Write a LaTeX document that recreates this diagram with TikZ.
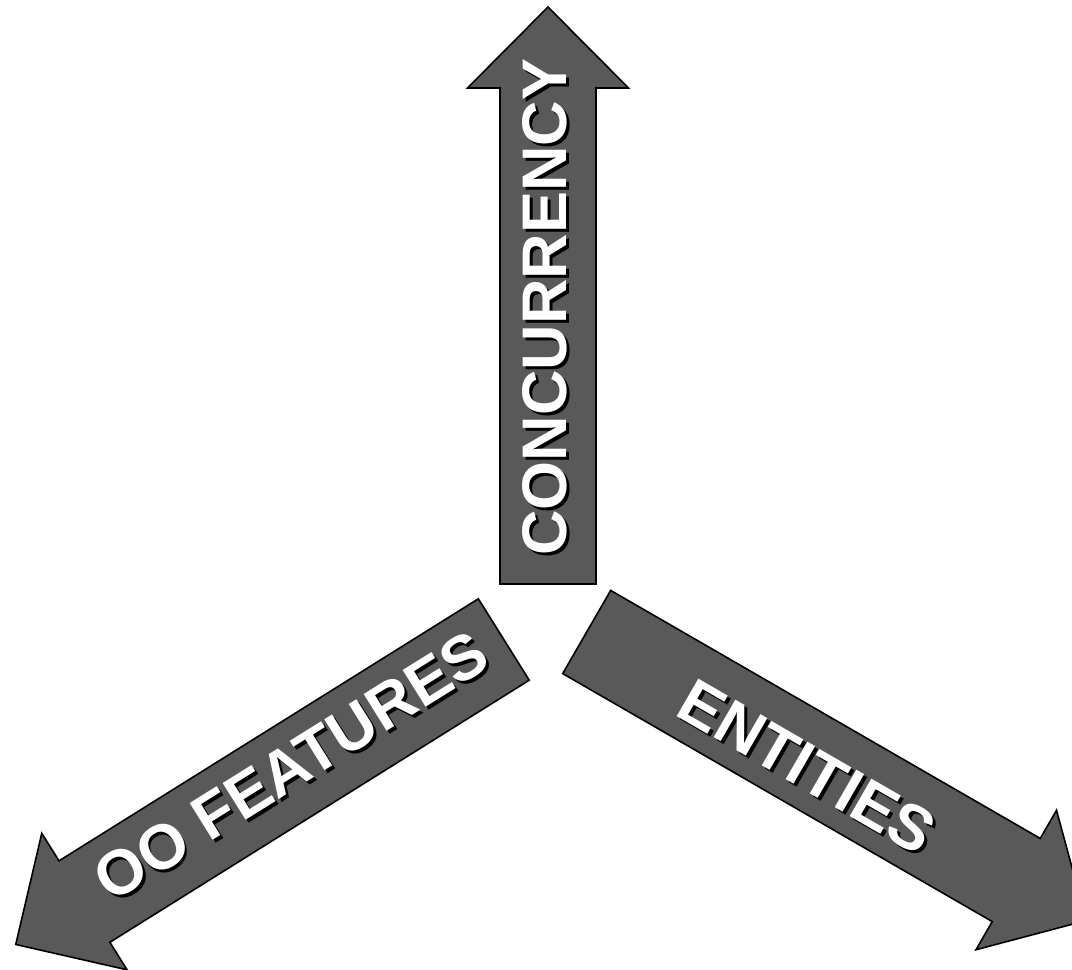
\documentclass[tikz,border=0pt]{standalone}
\usepackage{fontspec}
\setmainfont{Liberation Sans}
\newcommand\shadowedlabel[3]{\makebox[0pt][l]{\hspace*{#1}\raisebox{#2}{\color{black}#3}}#3}
\begin{document}
\begin{tikzpicture}[x=1pt,y=1pt,
  arrowshape/.style={fill=arrowgray, draw=black, line width=1.6pt, line join=miter},
  labeltext/.style={text=white, font=\fontsize{63}{70}\selectfont\bfseries, inner sep=0pt}]
\definecolor{arrowgray}{RGB}{89,89,89}
\clip (0,0) rectangle (1072,-970);
% arrow outlines (local: back centre at origin, pointing +x)
\def\bigarrow#1{(0,-48) -- (#1-81,-48) -- (#1-81,-80.5) -- (#1,0) -- (#1-81,80.5) -- (#1-81,48) -- (0,48) -- cycle}
\begin{scope}[shift={(548,-584)}, rotate=90]
  \path[arrowshape] \bigarrow{577};
\end{scope}
\begin{scope}[shift={(503.8,-639.5)}, rotate=212]
  \path[arrowshape] \bigarrow{575.5};
\end{scope}
\begin{scope}[shift={(586.7,-632)}, rotate=-30]
  \path[arrowshape] \bigarrow{577};
\end{scope}
% labels with drop shadow (shadow offset 3 right, 3 down on the page)
\node[labeltext, rotate=90] (conc) at (546,-307) {\shadowedlabel{-3pt}{-3pt}{CONCURRENCY}};
\node[labeltext, rotate=32] (oo) at (292,-768) {\shadowedlabel{0.95pt}{-4.13pt}{OO FEATURES}};
\node[labeltext, rotate=-30] (ent) at (807,-767) {\shadowedlabel{4.1pt}{-1.1pt}{ENTITIES}};
\end{tikzpicture}
\end{document}
